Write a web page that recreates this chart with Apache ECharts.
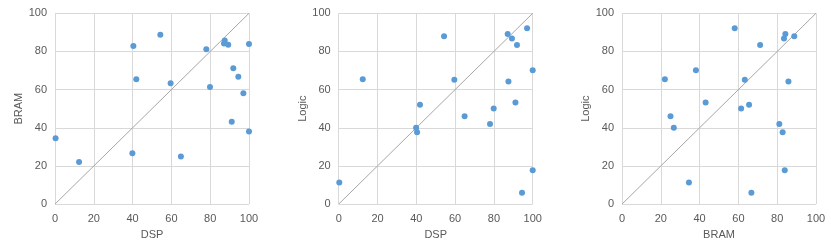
<!DOCTYPE html>
<html><head><meta charset="utf-8">
<script src="https://cdn.jsdelivr.net/npm/echarts@6/dist/echarts.min.js"></script>
<style>html,body{margin:0;padding:0;background:#fff}#c{width:831px;height:245px}</style>
</head><body><div id="c"></div>
<script>
const dsp   = [0.3, 12.4, 39.9, 40.4, 41.9, 54.3, 59.6, 64.9, 78.0, 79.9, 87.1, 87.5, 89.3, 91.9, 91.1, 94.5, 97.1, 100, 100];
const bram  = [34.5, 22.1, 26.7, 82.8, 65.5, 88.8, 63.3, 25.0, 81.1, 61.4, 84.2, 85.8, 83.5, 71.2, 43.1, 66.7, 58.1, 38.1, 83.9];
const logic = [11.3, 65.4, 40.0, 37.7, 52.1, 88.0, 65.2, 46.0, 42.0, 50.1, 89.2, 64.2, 86.8, 83.4, 53.2, 6.0, 92.1, 70.2, 17.7];
const ticks = [0, 20, 40, 60, 80, 100];
const diag = [[0, 0], [100, 100]];

const panels = [
  {x: dsp,  y: bram,  xName: 'DSP',  yName: 'BRAM',  left: 55,    yGap: 30},
  {x: dsp,  y: logic, xName: 'DSP',  yName: 'Logic', left: 338.7, yGap: 27},
  {x: bram, y: logic, xName: 'BRAM', yName: 'Logic', left: 622,   yGap: 29}
];
const txt = '#595959', font = 'Liberation Sans, Arial, sans-serif';
const grid = [], xAxis = [], yAxis = [], series = [];
panels.forEach((p, i) => {
  grid.push({left: p.left, top: 13.3, width: 194, height: 194.4});
  const common = {min: ticks[0], max: ticks[ticks.length - 1], interval: 20,
    axisLine: {show: false}, axisTick: {show: false},
    splitLine: {show: true, lineStyle: {color: '#d9d9d9', width: 1}},
    axisLabel: {color: txt, fontSize: 11, fontFamily: font},
    nameLocation: 'middle',
    nameTextStyle: {color: txt, fontSize: 11, fontFamily: font}};
  xAxis.push(Object.assign({}, common, {gridIndex: i, type: 'value', name: p.xName, nameGap: 21,
    axisLabel: Object.assign({}, common.axisLabel, {margin: 9})}));
  yAxis.push(Object.assign({}, common, {gridIndex: i, type: 'value', name: p.yName, nameGap: p.yGap,
    axisLabel: Object.assign({}, common.axisLabel, {margin: 8})}));
  series.push({type: 'line', xAxisIndex: i, yAxisIndex: i, data: diag, symbol: 'none',
    lineStyle: {color: '#a6a6a6', width: 1}, silent: true, z: 1, animation: false});
  series.push({type: 'scatter', xAxisIndex: i, yAxisIndex: i,
    data: p.x.map((v, k) => [v, p.y[k]]), symbolSize: 6,
    itemStyle: {color: '#5b9bd5', opacity: 1}, z: 2, animation: false});
});
const chart = echarts.init(document.getElementById('c'));
chart.setOption({animation: false, grid, xAxis, yAxis, series});
</script></body></html>
